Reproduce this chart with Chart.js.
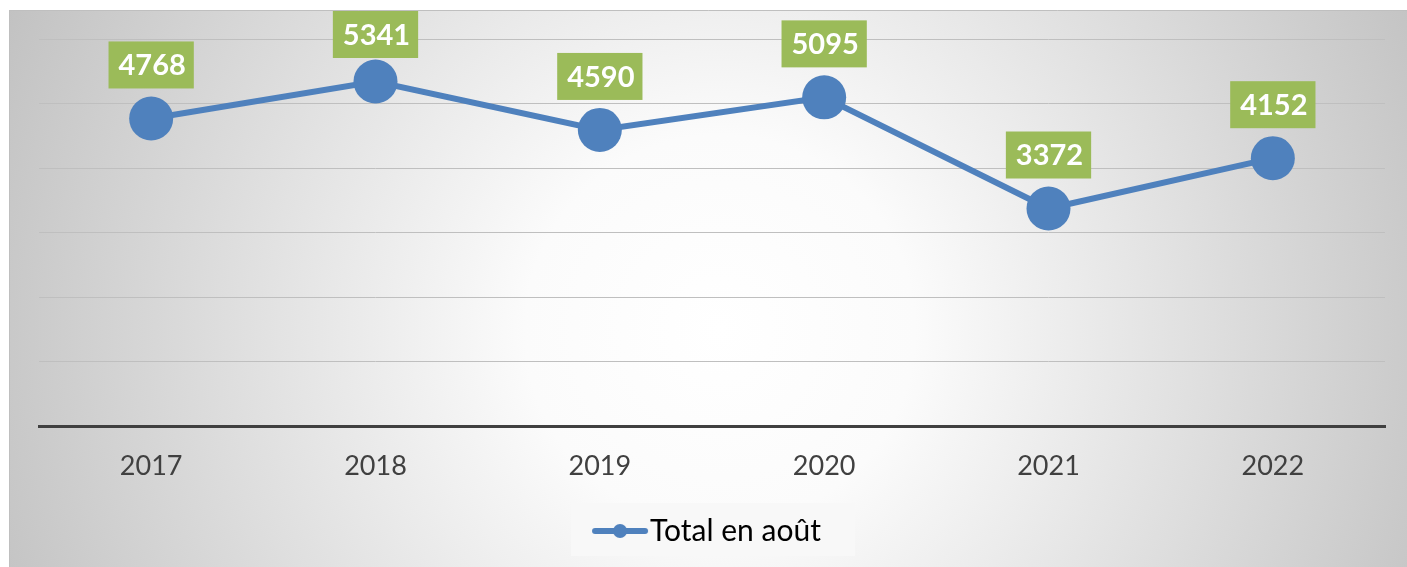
<!DOCTYPE html>
<html>
<head>
<meta charset="utf-8">
<script src="https://cdn.jsdelivr.net/npm/chart.js@4/dist/chart.umd.min.js"></script>
<style>
  html, body { margin: 0; padding: 0; background: #fff; }
  #wrap { width: 1407px; height: 567px; position: relative; }
</style>
</head>
<body>
<div id="wrap"><canvas id="chart" width="1407" height="567"></canvas></div>
<script>
const years = ['2017', '2018', '2019', '2020', '2021', '2022'];
const totals = [4768, 5341, 4590, 5095, 3372, 4152];
const seriesName = 'Total en août';

const blue = '#4F81BD';
const green = '#9BBB59';

// legend marker: line with a dot in the middle
const marker = document.createElement('canvas');
marker.width = 58; marker.height = 16;
const mctx = marker.getContext('2d');
mctx.strokeStyle = blue; mctx.lineWidth = 6; mctx.lineCap = 'round';
mctx.beginPath(); mctx.moveTo(4, 8); mctx.lineTo(54, 8); mctx.stroke();
mctx.fillStyle = blue;
mctx.beginPath(); mctx.arc(29, 8, 7, 0, Math.PI * 2); mctx.fill();

const background = {
  id: 'background',
  beforeDraw(chart) {
    const c = chart.ctx;
    c.save();
    const g = c.createRadialGradient(720, 330, 0, 720, 330, 780);
    g.addColorStop(0, '#ffffff');
    g.addColorStop(0.25, '#fbfbfb');
    g.addColorStop(1, '#c2c2c2');
    c.fillStyle = g;
    c.fillRect(9, 10, 1398, 557);
    c.strokeStyle = '#bfbfbf';
    c.lineWidth = 1;
    c.beginPath();
    c.moveTo(9.5, 567); c.lineTo(9.5, 10.5); c.lineTo(1407, 10.5);
    c.stroke();
    // legend box around the legend item
    const lg = chart.legend;
    const hit = lg.legendHitBoxes[0];
    if (hit) {
      const cx = hit.left + hit.width / 2;
      c.fillStyle = '#f8f8f8';
      c.fillRect(cx - 142, lg.top, 284, lg.height);
    }
    c.restore();
  }
};

const valueLabels = {
  id: 'valueLabels',
  afterDatasetsDraw(chart) {
    const c = chart.ctx;
    const meta = chart.getDatasetMeta(0);
    c.save();
    c.font = 'bold 29px Lato';
    c.textAlign = 'center';
    c.textBaseline = 'middle';
    meta.data.forEach((pt, i) => {
      const txt = String(totals[i]);
      const w = c.measureText(txt).width + 18;
      const h = 47;
      // keep the label inside the chart frame
      const bottom = Math.max(pt.y - 30, 11 + h);
      c.fillStyle = green;
      c.fillRect(pt.x - w / 2, bottom - h, w, h);
      c.fillStyle = '#ffffff';
      c.fillText(txt, pt.x + 1, bottom - h / 2 + 1);
    });
    c.restore();
  }
};

new Chart(document.getElementById('chart'), {
  type: 'line',
  data: {
    labels: years,
    datasets: [{
      label: seriesName,
      data: totals,
      borderColor: blue,
      backgroundColor: blue,
      borderWidth: 6,
      pointRadius: 22,
      pointHoverRadius: 22,
      pointBackgroundColor: blue,
      pointBorderWidth: 0,
      tension: 0,
      fill: false
    }]
  },
  options: {
    responsive: false,
    animation: false,
    layout: { padding: { top: 39, left: 39, right: 20, bottom: 11 } },
    plugins: {
      tooltip: { enabled: false },
      legend: {
        position: 'bottom',
        labels: {
          usePointStyle: true,
          color: '#404040',
          font: { family: 'Lato', size: 30 },
          padding: 13,
          generateLabels: (chart) => [{
            text: seriesName,
            pointStyle: marker,
            fillStyle: blue,
            strokeStyle: blue,
            lineWidth: 0,
            datasetIndex: 0
          }]
        }
      }
    },
    scales: {
      x: {
        offset: true,
        grid: { display: false, drawTicks: false },
        border: { display: true, color: '#404040', width: 3 },
        ticks: { color: '#404040', font: { family: 'Lato', size: 27 }, padding: 24 },
        afterFit: (scale) => { scale.height = 77; }
      },
      y: {
        min: 0,
        max: 6000,
        ticks: { display: false, stepSize: 1000 },
        grid: { color: '#bfbfbf', lineWidth: 1, drawTicks: false },
        border: { display: false },
        afterFit: (scale) => { scale.width = 0; }
      }
    }
  },
  plugins: [background, valueLabels]
});
</script>
</body>
</html>
